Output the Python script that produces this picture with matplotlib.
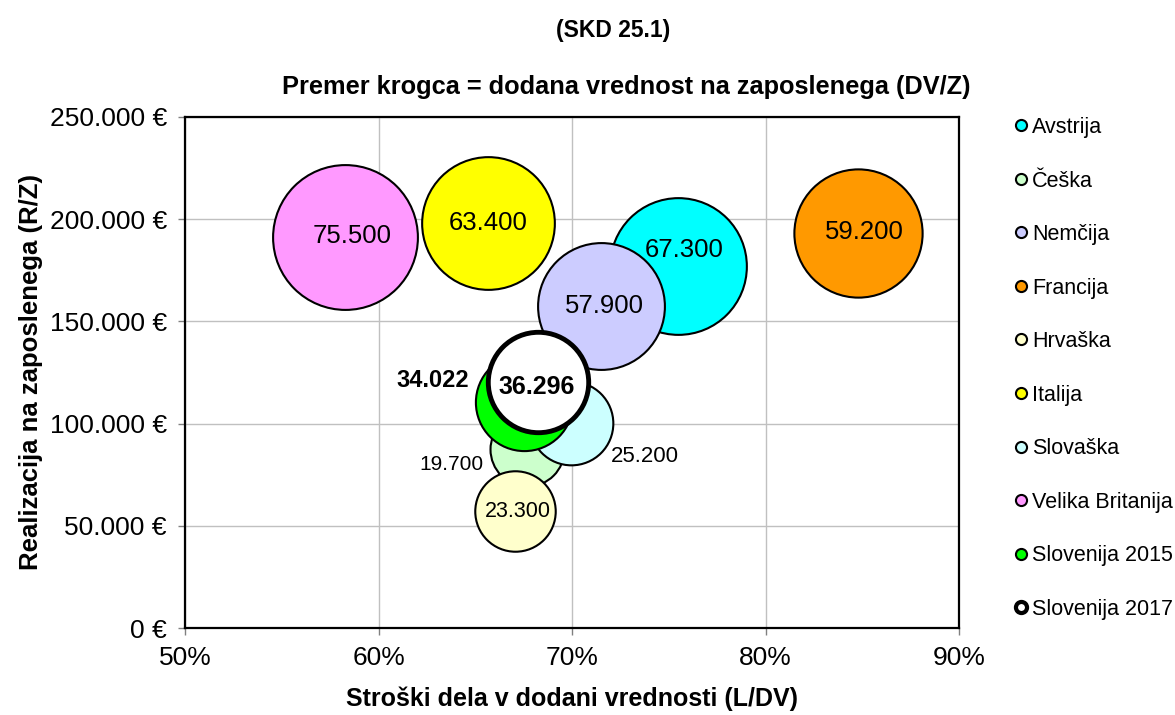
import matplotlib
matplotlib.use('Agg')
import matplotlib.pyplot as plt
from matplotlib.lines import Line2D
from matplotlib.ticker import FuncFormatter, MultipleLocator

plt.rcParams['font.family'] = ['Liberation Sans', 'DejaVu Sans']

# podatki (odčitani s slike)
countries = ['Avstrija', 'Češka', 'Nemčija', 'Francija', 'Hrvaška', 'Italija',
             'Slovaška', 'Velika Britanija', 'Slovenija 2015', 'Slovenija 2017']
ldv = [75.5, 67.67, 71.5, 84.8, 67.04, 65.66, 69.95, 58.29, 67.52, 68.24]          # %
rz = [177100, 87600, 157500, 193200, 57200, 198100, 100300, 191500, 110700, 120400]  # €
dvz = [67300, 19700, 57900, 59200, 23300, 63400, 25200, 75500, 34022, 36296]        # €
labels = ['67.300', '19.700', '57.900', '59.200', '23.300', '63.400', '25.200',
          '75.500', '34.022', '36.296']

colors = ['#00FFFF', '#CCFFCC', '#CCCCFF', '#FF9900', '#FFFFCC', '#FFFF00',
          '#CCFFFF', '#FF99FF', '#00FF00', '#FFFFFF']
edge_w = [1.5] * 9 + [3.5]
# zamik oznak od sredine krogca (v pikslih)
lab_off = [(6, 16), (-75, -16), (3, 0), (6, 1), (3, 0), (0, 0),
           (74, -34), (7, 1), (-91, 21), (-1, -5)]
lab_size = [18.5, 15, 18.5, 18.5, 15.5, 18.5, 16, 18.5, 17, 18]
lab_bold = [False] * 8 + [True, True]

fig = plt.figure(figsize=(11.75, 7.15), dpi=100)
ax = fig.add_axes([185 / 1175, 1 - 628 / 715, (959 - 185) / 1175, (628 - 117) / 715])

k = 144.0  # površina krogca ~ DV/Z
for i in range(len(countries)):
    ax.scatter(ldv[i], rz[i], s=dvz[i] / 1000 * k, c=colors[i],
               edgecolors='black', linewidths=edge_w[i], zorder=3 + i)

for i in range(len(countries)):
    ax.annotate(labels[i], (ldv[i], rz[i]), xytext=lab_off[i],
                textcoords='offset pixels', ha='center', va='center',
                fontsize=lab_size[i],
                fontweight='bold' if lab_bold[i] else 'normal', zorder=20)

ax.set_xlim(50, 90)
ax.set_ylim(0, 250000)
ax.xaxis.set_major_locator(MultipleLocator(10))
ax.yaxis.set_major_locator(MultipleLocator(50000))
ax.xaxis.set_major_formatter(FuncFormatter(lambda v, p: f'{v:.0f}%'))
ax.yaxis.set_major_formatter(FuncFormatter(
    lambda v, p: f'{int(v):,}'.replace(',', '.') + ' €'))
ax.tick_params(labelsize=19, length=5, width=1, color='#808080', pad=8)
ax.grid(True, color='#C0C0C0', linewidth=1)
ax.set_axisbelow(True)
for sp in ax.spines.values():
    sp.set_linewidth(1.6)
    sp.set_color('black')

ax.set_xlabel('Stroški dela v dodani vrednosti (L/DV)', fontsize=18,
              fontweight='bold', labelpad=12)
ax.set_ylabel('Realizacija na zaposlenega (R/Z)', fontsize=18.5,
              fontweight='bold', labelpad=5)

fig.text(613 / 1175, 1 - 30 / 715, '(SKD 25.1)', fontsize=16.5, fontweight='bold',
         ha='center', va='center')
fig.text(626 / 1175, 1 - 87 / 715, 'Premer krogca = dodana vrednost na zaposlenega (DV/Z)',
         fontsize=18.3, fontweight='bold', ha='center', va='center')

handles = [Line2D([], [], marker='o', linestyle='none', markersize=8,
                  markerfacecolor=colors[i], markeredgecolor='black',
                  markeredgewidth=1.5 if i < 9 else 3)
           for i in range(len(countries))]
fig.legend(handles, countries, loc='upper left',
           bbox_to_anchor=(1015 / 1175, 1 - 117 / 715), frameon=False,
           fontsize=15.5, labelspacing=1.51, handlelength=0.6, handletextpad=0.2,
           borderaxespad=0, borderpad=0)

fig.savefig('out.png', dpi=100)
